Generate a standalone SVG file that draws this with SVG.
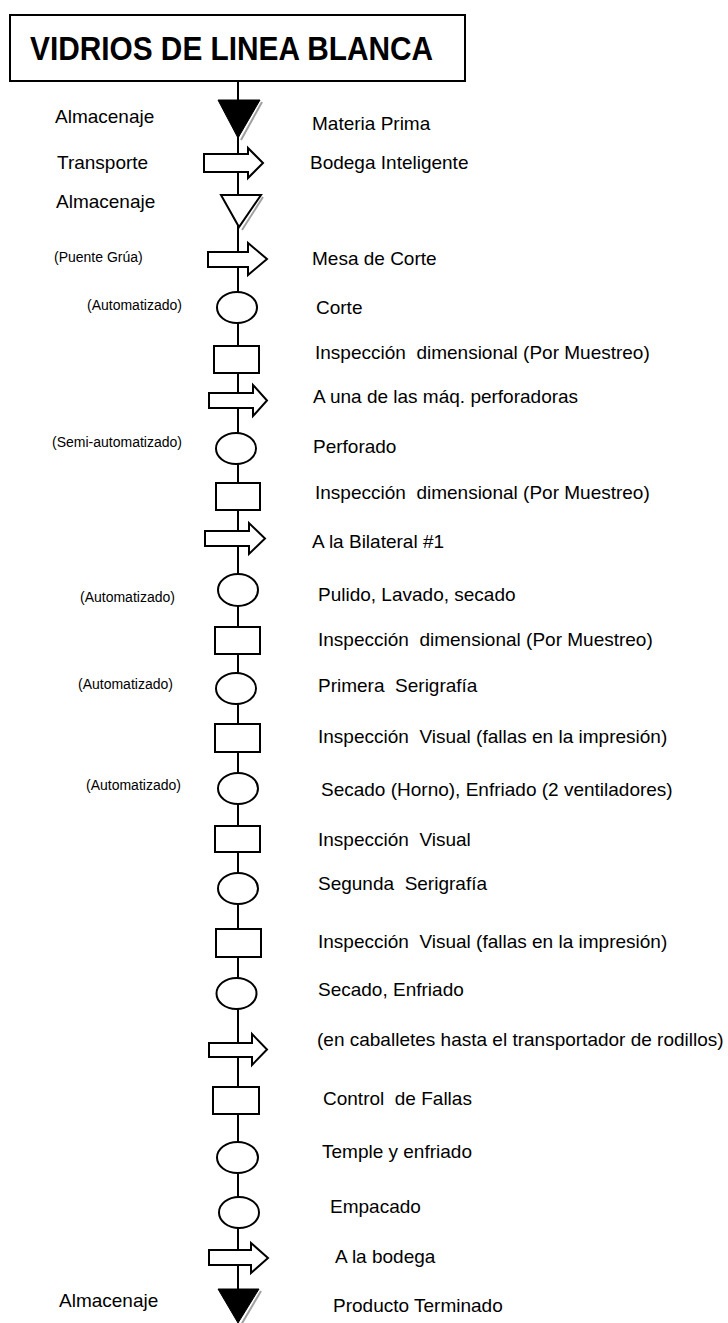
<svg xmlns="http://www.w3.org/2000/svg" width="728" height="1323" viewBox="0 0 728 1323">
<style>
.s{fill:#fff;stroke:#000;stroke-width:2}
.f{fill:#000;stroke:#000;stroke-width:1}
.sh{fill:none;stroke:#a0a0a0;stroke-width:2}
.t{font-family:"Liberation Sans",Arial,sans-serif;font-size:19px;fill:#000}
.l{font-family:"Liberation Sans",Arial,sans-serif;font-size:14px;fill:#000}
.ln{stroke:#000;stroke-width:2;fill:none}
</style>
<rect width="728" height="1323" fill="#fff"/>
<g id="connectors">
<line class="ln" x1="238" y1="81" x2="238" y2="1300"/>
</g>
<g id="title">
<rect class="s" x="10" y="15" width="455" height="66"/>
<text x="30" y="60" font-family="Liberation Sans,Arial,sans-serif" font-weight="bold" font-size="34" textLength="403" lengthAdjust="spacingAndGlyphs">VIDRIOS DE LINEA BLANCA</text>
</g>
<g id="n1">
<polyline class="sh" points="262,102 241,140"/>
<polygon class="f" points="218,100 260,100 238,138"/>
<text class="t" x="55" y="123">Almacenaje</text>
<text class="t" x="312" y="130">Materia Prima</text>
</g>
<g id="n2">
<polygon class="s" points="204,154 248,154 248,148 263,163 248,178 248,172 204,172"/>
<text class="t" x="57" y="169">Transporte</text>
<text class="t" x="310" y="169">Bodega Inteligente</text>
</g>
<g id="n3">
<polyline class="sh" points="263,197 242,230"/>
<polygon class="s" points="221,195 261,195 239,227"/>
<text class="t" x="56" y="208">Almacenaje</text>
</g>
<g id="n4">
<polygon class="s" points="208,252 248,252 248,243 267,259 248,275 248,267 208,267"/>
<text class="l" x="54" y="262">(Puente Grúa)</text>
<text class="t" x="312" y="265">Mesa de Corte</text>
</g>
<g id="n5">
<ellipse class="s" cx="237" cy="307.5" rx="20" ry="15.5"/>
<text class="l" x="87" y="310">(Automatizado)</text>
<text class="t" x="316" y="314">Corte</text>
</g>
<g id="n6">
<rect class="s" x="214" y="346" width="45" height="27"/>
<text class="t" x="315" y="359" xml:space="preserve">Inspección  dimensional (Por Muestreo)</text>
</g>
<g id="n7">
<polygon class="s" points="209,393 253,393 253,385 267,400.5 253,416 253,408 209,408"/>
<text class="t" x="313" y="403">A una de las máq. perforadoras</text>
</g>
<g id="n8">
<ellipse class="s" cx="236" cy="448.5" rx="20" ry="15.5"/>
<text class="l" x="52" y="447">(Semi-automatizado)</text>
<text class="t" x="313" y="453">Perforado</text>
</g>
<g id="n9">
<rect class="s" x="216" y="483" width="44" height="27"/>
<text class="t" x="315" y="499" xml:space="preserve">Inspección  dimensional (Por Muestreo)</text>
</g>
<g id="n10">
<polygon class="s" points="205,531 249,531 249,523 265,538.5 249,554 249,546 205,546"/>
<text class="t" x="312" y="548">A la Bilateral #1</text>
</g>
<g id="n11">
<ellipse class="s" cx="238" cy="590" rx="20" ry="16"/>
<text class="l" x="80" y="602">(Automatizado)</text>
<text class="t" x="318" y="601">Pulido, Lavado, secado</text>
</g>
<g id="n12">
<rect class="s" x="215" y="627" width="45" height="27"/>
<text class="t" x="318" y="646" xml:space="preserve">Inspección  dimensional (Por Muestreo)</text>
</g>
<g id="n13">
<ellipse class="s" cx="236" cy="688.5" rx="20" ry="15.5"/>
<text class="l" x="78" y="689">(Automatizado)</text>
<text class="t" x="318" y="692" xml:space="preserve">Primera  Serigrafía</text>
</g>
<g id="n14">
<rect class="s" x="215" y="724" width="45" height="28"/>
<text class="t" x="318" y="743" xml:space="preserve">Inspección  Visual (fallas en la impresión)</text>
</g>
<g id="n15">
<ellipse class="s" cx="238" cy="788.5" rx="20" ry="15.5"/>
<text class="l" x="86" y="790">(Automatizado)</text>
<text class="t" x="321" y="796">Secado (Horno), Enfriado (2 ventiladores)</text>
</g>
<g id="n16">
<rect class="s" x="215" y="826" width="45" height="26"/>
<text class="t" x="318" y="846" xml:space="preserve">Inspección  Visual</text>
</g>
<g id="n17">
<ellipse class="s" cx="238" cy="888.5" rx="20" ry="15.5"/>
<text class="t" x="318" y="890" xml:space="preserve">Segunda  Serigrafía</text>
</g>
<g id="n18">
<rect class="s" x="216" y="929" width="45" height="28"/>
<text class="t" x="318" y="948" xml:space="preserve">Inspección  Visual (fallas en la impresión)</text>
</g>
<g id="n19">
<ellipse class="s" cx="236.5" cy="993.5" rx="20" ry="15.5"/>
<text class="t" x="318" y="996">Secado, Enfriado</text>
</g>
<g id="n20">
<polygon class="s" points="209,1043 252,1043 252,1034 267,1049.5 252,1065 252,1057 209,1057"/>
<text class="t" x="317" y="1046">(en caballetes hasta el transportador de rodillos)</text>
</g>
<g id="n21">
<rect class="s" x="213" y="1087" width="46" height="27"/>
<text class="t" x="323" y="1105" xml:space="preserve">Control  de Fallas</text>
</g>
<g id="n22">
<ellipse class="s" cx="237.5" cy="1157.5" rx="20.5" ry="15.5"/>
<text class="t" x="322" y="1158">Temple y enfriado</text>
</g>
<g id="n23">
<ellipse class="s" cx="239" cy="1212.5" rx="20" ry="15.5"/>
<text class="t" x="330" y="1213">Empacado</text>
</g>
<g id="n24">
<polygon class="s" points="209,1250 251,1250 251,1243 268,1258 251,1273 251,1265 209,1265"/>
<text class="t" x="335" y="1263">A la bodega</text>
</g>
<g id="n25">
<polyline class="sh" points="261,1291 241,1325"/>
<polygon class="f" points="218,1289 259,1289 238,1323"/>
<text class="t" x="59" y="1307">Almacenaje</text>
<text class="t" x="333" y="1312">Producto Terminado</text>
</g>
</svg>
